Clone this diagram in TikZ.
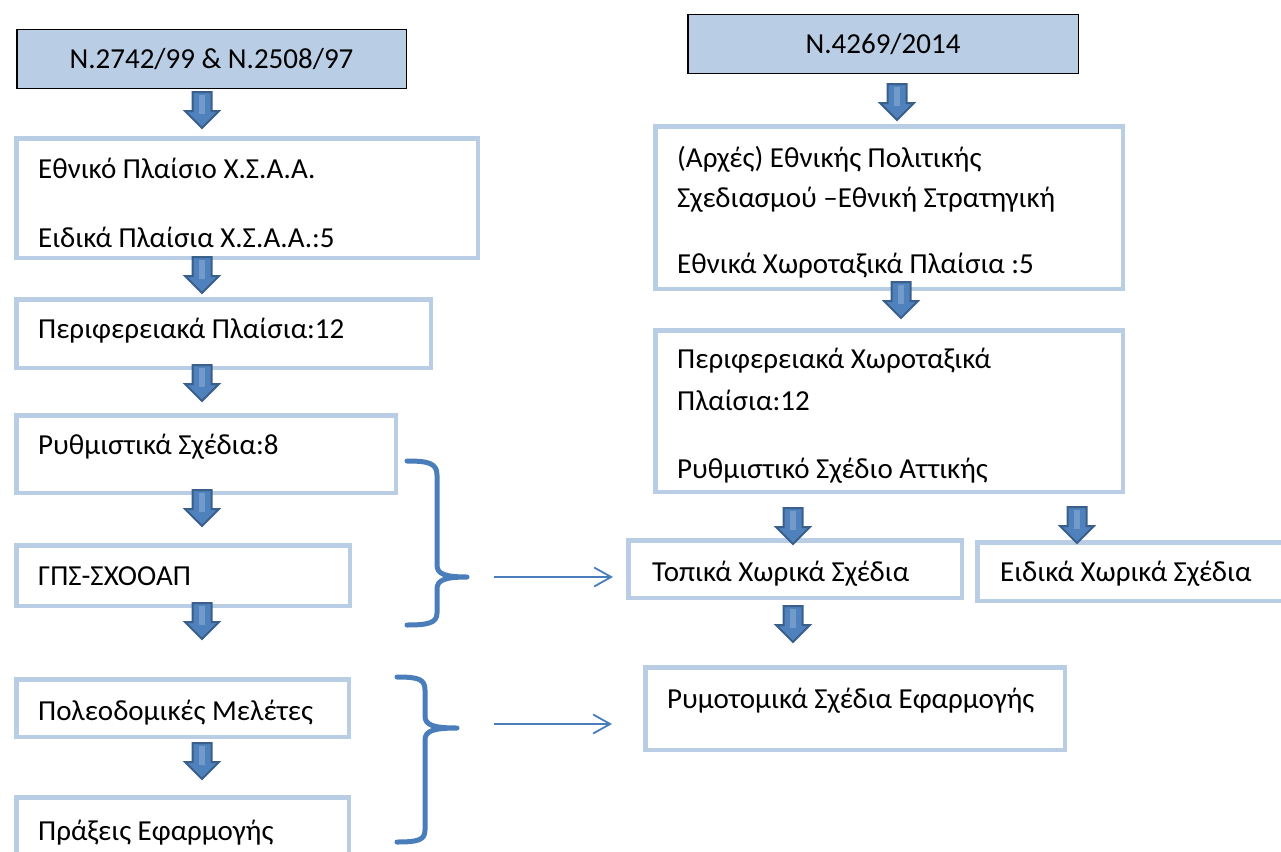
\documentclass[tikz,border=0pt]{standalone}
\usepackage{fontspec}
\setmainfont{Carlito}
\usetikzlibrary{arrows.meta}
\definecolor{boxline}{HTML}{B9CDE5}
\definecolor{hdrfill}{HTML}{B9CDE5}
\definecolor{arrfill}{HTML}{4F81BD}
\definecolor{arrline}{HTML}{3A5F8B}
\definecolor{bracec}{HTML}{4A7EBB}
\tikzset{
  box/.style={draw=boxline, line width=4.5pt, fill=white, inner sep=0pt},
  hdr/.style={draw=black, line width=1.5pt, fill=hdrfill, inner sep=0pt},
  txt/.style={font=\fontsize{29}{35}\selectfont, inner sep=0pt, anchor=base west},
  ctxt/.style={font=\fontsize{29}{35}\selectfont, inner sep=0pt, anchor=base},
  blockarrow/.style={fill=arrfill, draw=arrline, line width=2pt, line join=miter},
  barrow/.pic={\draw[blockarrow] (-9.5,0) -- (9.5,0) -- (9.5,19) -- (17,19) -- (0,36) -- (-17,19) -- (-9.5,19) -- cycle;
               \fill[arrfill!80!white] (-3,3) rectangle (3,22);},
  bracestyle/.style={draw=bracec, line width=5pt, line cap=round, line join=round},
  thinarrow/.style={draw=bracec, line width=1.8pt, -{Straight Barb[length=17pt,width=19pt,line width=1.8pt]}},
}
\begin{document}
\begin{tikzpicture}[x=1pt,y=-1pt]
\useasboundingbox (0,0) rectangle (1281,851);
\clip (0,0) rectangle (1281,851);
% left column
\node[hdr, minimum width=389.5pt, minimum height=58.5pt] (h1) at (211.5,59) {};
\node[ctxt] (h1t) at (211.5,68) {N.2742/99 \& N.2508/97};
\node[box, minimum width=461.5pt, minimum height=119.5pt] (b1) at (247,198) {};
\node[txt] (b1t1) at (38,178) {Εθνικό Πλαίσιο Χ.Σ.Α.Α.};
\node[txt] (b1t2) at (38,247) {Ειδικά Πλαίσια Χ.Σ.Α.Α.:5};
\node[box, minimum width=414.5pt, minimum height=68.5pt] (b2) at (223.5,333.5) {};
\node[txt] (b2t) at (38,338) {Περιφερειακά Πλαίσια:12};
\node[box, minimum width=379.5pt, minimum height=77.5pt] (b3) at (206,454) {};
\node[txt] (b3t) at (38,454) {Ρυθμιστικά Σχέδια:8};
\node[box, minimum width=333.5pt, minimum height=60.5pt] (b4) at (183,575.5) {};
\node[txt] (b4t) at (38,585) {ΓΠΣ-ΣΧΟΟΑΠ};
\node[box, minimum width=332.5pt, minimum height=57.5pt] (b5) at (182.5,708) {};
\node[txt] (b5t) at (38,720) {Πολεοδομικές Μελέτες};
\node[box, minimum width=332.5pt, minimum height=70.5pt] (b6) at (182.5,832.5) {};
\node[txt] (b6t) at (38,840) {Πράξεις Εφαρμογής};
% right column
\node[hdr, minimum width=390.5pt, minimum height=58.5pt] (h2) at (883,44) {};
\node[ctxt] (h2t) at (883,53) {N.4269/2014};
\node[box, minimum width=467.5pt, minimum height=162.5pt] (r1) at (889,207.5) {};
\node[txt] (r1t1) at (677,167) {(Αρχές) Εθνικής Πολιτικής};
\node[txt] (r1t2) at (677,207) {Σχεδιασμού –Εθνική Στρατηγική};
\node[txt] (r1t3) at (677,273) {Εθνικά Χωροταξικά Πλαίσια :5};
\node[box, minimum width=467.5pt, minimum height=161.5pt] (r2) at (889,411) {};
\node[txt] (r2t1) at (677,368) {Περιφερειακά Χωροταξικά};
\node[txt] (r2t2) at (677,410) {Πλαίσια:12};
\node[txt] (r2t3) at (677,478) {Ρυθμιστικό Σχέδιο Αττικής};
\node[box, minimum width=333.5pt, minimum height=57.5pt] (r3) at (795,569) {};
\node[txt] (r3t) at (652,581) {Τοπικά Χωρικά Σχέδια};
\node[box, minimum width=320.5pt, minimum height=58.5pt] (r4) at (1137.5,571.5) {};
\node[txt] (r4t) at (1000,581) {Ειδικά Χωρικά Σχέδια};
\node[box, minimum width=419.5pt, minimum height=82.5pt] (r5) at (855,708.5) {};
\node[txt] (r5t) at (667,708) {Ρυμοτομικά Σχέδια Εφαρμογής};
% block arrows
\pic at (202,92) {barrow};
\pic at (202,257) {barrow};
\pic at (202,365) {barrow};
\pic at (202,490) {barrow};
\pic at (202,603) {barrow};
\pic at (202,743) {barrow};
\pic at (897,84) {barrow};
\pic at (901,282) {barrow};
\pic at (793,508) {barrow};
\pic at (1077,507) {barrow};
\pic at (793,606) {barrow};
% braces
\draw[bracestyle] (407,461) .. controls (428,461) and (437,463) .. (437,475) -- (437,565)
   .. controls (437,574) and (445,577) .. (467,577)
   .. controls (445,577) and (437,580) .. (437,589) -- (437,613)
   .. controls (437,623) and (428,625) .. (407,625);
\draw[bracestyle] (397,677) .. controls (418,677) and (425,679) .. (425,690) -- (425,716)
   .. controls (425,725) and (433,728) .. (457,728)
   .. controls (433,728) and (425,731) .. (425,740) -- (425,830)
   .. controls (425,840) and (418,842) .. (397,842);
\coordinate (br1) at (467,577);
\coordinate (br2) at (457,728);
% thin arrows
\coordinate (t1a) at (494,577);
\coordinate (t1b) at (613,577);
\coordinate (t2a) at (494,724);
\coordinate (t2b) at (612,724);
\draw[thinarrow] (t1a) -- (t1b);
\draw[thinarrow] (t2a) -- (t2b);
\end{tikzpicture}
\end{document}
